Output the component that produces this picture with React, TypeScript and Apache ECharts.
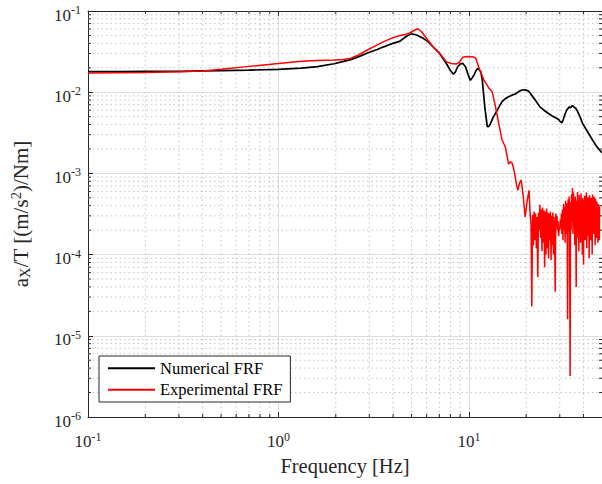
import React, { useEffect, useRef } from "react";
import * as echarts from "echarts";

const SERIF = "Liberation Serif, Times New Roman, serif";
const AXIS_COLOR = "#262626";

const X_MIN = 0.1;
const X_MAX = 50;
const Y_MIN = 1e-6;
const Y_MAX = 1e-1;

const seriesNames = ["Numerical FRF", "Experimental FRF"];
const seriesColors = ["#000000", "#ff0000"];

// [frequency Hz, |a_X/T|]
const numericalFRF: [number, number][] = [
  [0.1, 0.0179], [0.15, 0.0179], [0.2, 0.018], [0.3, 0.0181], [0.4, 0.0183], [0.5, 0.0184],
  [0.7, 0.0187], [1.0, 0.0191], [1.32, 0.0198], [1.6, 0.0207], [1.96, 0.0224], [2.2, 0.024],
  [2.4, 0.0252], [2.7, 0.028], [2.94, 0.0304], [3.3, 0.0335], [3.57, 0.0362], [4.0, 0.04],
  [4.35, 0.0425], [4.72, 0.0492], [5.0, 0.0525], [5.31, 0.0506], [5.75, 0.0461], [6.1, 0.042],
  [6.48, 0.0363], [7.02, 0.03], [7.6, 0.0227], [8.0, 0.0185], [8.29, 0.0166], [8.5, 0.0178],
  [8.73, 0.0206], [9.0, 0.0222], [9.27, 0.0227], [9.6, 0.0206], [9.9, 0.0165], [10.18, 0.014],
  [10.4, 0.015], [10.65, 0.0163], [10.9, 0.0185], [11.17, 0.0197], [11.55, 0.0179], [11.76, 0.0141],
  [12.12, 0.0066], [12.49, 0.00376], [12.75, 0.0038], [13.0, 0.00414], [13.4, 0.0049], [13.8, 0.0055],
  [14.4, 0.0066], [14.93, 0.00764], [15.5, 0.0083], [16.17, 0.0088], [16.8, 0.0092], [17.52, 0.0095],
  [18.2, 0.0101], [18.96, 0.01064], [19.7, 0.0107], [20.5, 0.0104], [21.36, 0.0092], [22.5, 0.0078],
  [23.6, 0.0066], [24.8, 0.006], [26.06, 0.0055], [27.4, 0.0051], [28.7, 0.0048], [29.6, 0.0046],
  [30.0, 0.0044], [30.8, 0.0042], [31.3, 0.0046], [31.8, 0.0052], [32.6, 0.006], [33.66, 0.0066],
  [34.2, 0.0064], [34.7, 0.0068], [35.12, 0.0068], [35.8, 0.0065], [36.5, 0.0063], [37.2, 0.0058],
  [38.05, 0.0052], [39.57, 0.0041], [42.0, 0.00326], [44.59, 0.00258], [46.5, 0.0022], [48.48, 0.00194],
  [50.0, 0.0018],
];

const experimentalFRF: [number, number][] = [
  [0.1, 0.0172], [0.2, 0.0175], [0.3, 0.0179], [0.4, 0.0183], [0.5, 0.0192], [0.7, 0.0208],
  [1.0, 0.0225], [1.32, 0.024], [1.6, 0.0245], [1.96, 0.0249], [2.2, 0.0253], [2.4, 0.0262],
  [2.65, 0.029], [2.93, 0.0331], [3.25, 0.0375], [3.57, 0.0419], [4.0, 0.047], [4.35, 0.05],
  [4.65, 0.0515], [4.91, 0.054], [5.21, 0.0583], [5.42, 0.0605], [5.64, 0.0556], [5.99, 0.0461],
  [6.48, 0.0363], [7.02, 0.0301], [7.6, 0.0238], [8.1, 0.0226], [8.56, 0.0222], [8.9, 0.0232],
  [9.27, 0.0269], [9.8, 0.0275], [10.44, 0.0274], [10.87, 0.0262], [11.31, 0.0197], [12.0, 0.0141],
  [12.74, 0.0112], [13.26, 0.0101], [13.8, 0.0066], [14.35, 0.0041], [14.93, 0.0026], [15.55, 0.0021],
  [15.9, 0.0016], [16.17, 0.0013], [16.5, 0.0014], [16.82, 0.00135], [17.1, 0.0012], [17.38, 0.001],
  [17.75, 0.00075], [18.07, 0.00062], [18.45, 0.00076], [18.83, 0.00083], [19.3, 0.00052], [19.74, 0.00029],
  [20.2, 0.00045], [20.7, 0.00062],
  [21.0, 3.0e-4], [21.2, 2.4e-4], [21.4, 2.3e-5], [21.6, 3.1e-4], [21.8, 1.3e-4], [22.0, 3.4e-4],
  [22.2, 1.5e-4], [22.4, 3.2e-4], [22.6, 1.2e-4], [22.8, 2.9e-4], [23.0, 5.3e-5], [23.2, 3.3e-4],
  [23.4, 2.0e-4], [23.6, 4.1e-4], [23.8, 1.6e-4], [24.0, 3.6e-4], [24.2, 1.1e-4], [24.4, 3.8e-4],
  [24.6, 1.4e-4], [24.8, 3.5e-4], [25.0, 7.0e-5], [25.2, 3.4e-4], [25.4, 1.0e-4], [25.6, 3.7e-4],
  [25.8, 1.2e-4], [26.0, 3.3e-4], [26.2, 9.0e-5], [26.4, 3.2e-4], [26.6, 1.5e-4], [26.8, 3.4e-4],
  [27.0, 8.5e-5], [27.2, 3.0e-4], [27.4, 1.3e-4], [27.6, 3.3e-4], [27.8, 1.0e-4], [28.0, 2.9e-4],
  [28.2, 1.6e-4], [28.4, 3.5e-5], [28.6, 3.2e-4], [28.8, 2.2e-4], [29.0, 3.0e-4], [29.2, 2.0e-4],
  [29.4, 2.6e-4], [29.6, 1.7e-4], [29.8, 2.2e-4], [30.0, 2.0e-4], [30.2, 2.7e-4], [30.4, 2.1e-4],
  [30.6, 3.2e-4], [30.8, 1.8e-4], [31.0, 3.6e-4], [31.2, 1.5e-4], [31.4, 4.2e-4], [31.6, 2.0e-4],
  [31.8, 3.9e-4], [32.0, 1.4e-4], [32.2, 4.6e-4], [32.4, 1.8e-4], [32.6, 4.3e-4], [32.8, 2.5e-4],
  [33.0, 1.6e-5], [33.2, 4.8e-4], [33.4, 1.9e-4], [33.6, 5.2e-4], [33.8, 2.2e-4], [34.0, 3.2e-6],
  [34.2, 4.4e-4], [34.4, 2.0e-4], [34.6, 5.5e-4], [34.8, 2.6e-4], [35.0, 6.6e-4], [35.2, 1.8e-4],
  [35.4, 5.8e-4], [35.6, 2.4e-4], [35.8, 4.9e-4], [36.0, 1.3e-4], [36.2, 5.2e-4], [36.4, 2.9e-4],
  [36.6, 4.0e-5], [36.8, 4.6e-4], [37.0, 1.6e-4], [37.2, 5.9e-4], [37.4, 2.3e-4], [37.6, 4.8e-4],
  [37.8, 1.1e-4], [38.0, 5.4e-4], [38.2, 2.7e-4], [38.4, 4.5e-4], [38.6, 1.4e-4], [38.8, 5.7e-4],
  [39.0, 3.0e-4], [39.2, 4.2e-4], [39.4, 1.0e-4], [39.6, 5.0e-4], [39.8, 2.4e-4], [40.0, 7.5e-5],
  [40.2, 4.7e-4], [40.4, 2.0e-4], [40.6, 5.3e-4], [40.8, 1.5e-4], [41.0, 4.4e-4], [41.2, 2.6e-4],
  [41.4, 5.8e-4], [41.6, 1.2e-4], [41.8, 4.1e-4], [42.0, 2.2e-4], [42.2, 5.1e-4], [42.4, 1.7e-4],
  [42.6, 4.6e-4], [42.8, 9.0e-5], [43.0, 5.4e-4], [43.2, 2.8e-4], [43.4, 4.3e-4], [43.6, 1.5e-4],
  [43.8, 5.0e-4], [44.0, 2.1e-4], [44.2, 4.7e-4], [44.4, 1.0e-4], [44.6, 5.5e-4], [44.8, 2.5e-4],
  [45.0, 4.0e-4], [45.2, 1.8e-4], [45.4, 5.2e-4], [45.6, 2.3e-4], [45.8, 4.4e-4], [46.0, 1.3e-4],
  [46.2, 4.9e-4], [46.4, 2.6e-4], [46.6, 3.8e-4], [46.8, 1.6e-4], [47.0, 4.5e-4], [47.2, 2.0e-4],
  [47.4, 3.6e-4], [47.6, 1.4e-4], [47.8, 4.2e-4], [48.0, 2.2e-4], [48.2, 3.4e-4], [48.4, 1.5e-4],
  [48.6, 3.9e-4],
];

const xMinorGrid = [0.2, 0.3, 0.4, 0.5, 0.6, 0.7, 0.8, 0.9, 2, 3, 4, 5, 6, 7, 8, 9, 20, 30, 40];
const yMinorGrid = [
  2e-6, 3e-6, 4e-6, 5e-6, 6e-6, 7e-6, 8e-6, 9e-6,
  2e-5, 3e-5, 4e-5, 5e-5, 6e-5, 7e-5, 8e-5, 9e-5,
  2e-4, 3e-4, 4e-4, 5e-4, 6e-4, 7e-4, 8e-4, 9e-4,
  2e-3, 3e-3, 4e-3, 5e-3, 6e-3, 7e-3, 8e-3, 9e-3,
  2e-2, 3e-2, 4e-2, 5e-2, 6e-2, 7e-2, 8e-2, 9e-2,
];

const powerLabel = (v: number) => {
  const e = Math.log10(v);
  const r = Math.round(e);
  if (Math.abs(e - r) > 1e-6) return "";
  return `{b|10}{s|${r}}`;
};

const labelRich = {
  b: { fontFamily: SERIF, fontSize: 17, color: AXIS_COLOR, padding: [8, 0, 0, 0] },
  s: { fontFamily: SERIF, fontSize: 12, color: AXIS_COLOR, padding: [0, 0, 2, 0] },
};

export default function App() {
  const ref = useRef<HTMLDivElement>(null);

  useEffect(() => {
    if (!ref.current) return;
    const chart = echarts.init(ref.current, null, { renderer: "svg" });

    const minorData = [
      ...xMinorGrid.map((v) => [v, Y_MIN, 0]),
      ...yMinorGrid.map((v) => [X_MIN, v, 1]),
    ];

    const option: any = {
      animation: false,
      backgroundColor: "#ffffff",
      textStyle: { fontFamily: SERIF },
      grid: { left: 83.7, top: 11, width: 520.9, height: 406, containLabel: false },
      legend: {
        data: seriesNames,
        orient: "vertical",
        left: 99,
        top: 356,
        icon: "rect",
        itemWidth: 47,
        itemHeight: 2,
        itemGap: 4.6,
        padding: [3.7, 8, 3.7, 9],
        backgroundColor: "#ffffff",
        borderColor: AXIS_COLOR,
        borderWidth: 1,
        borderRadius: 0,
        textStyle: { fontFamily: SERIF, fontSize: 16.5, lineHeight: 17, color: "#000" },
      },
      xAxis: [
        {
          type: "log",
          logBase: 10,
          min: X_MIN,
          max: X_MAX,
          name: "Frequency [Hz]",
          nameLocation: "middle",
          nameGap: 38,
          nameTextStyle: { fontFamily: SERIF, fontSize: 20.5, color: AXIS_COLOR },
          axisLine: { show: true, onZero: false, lineStyle: { color: AXIS_COLOR, width: 1 } },
          axisTick: { show: true, inside: true, length: 5, lineStyle: { color: AXIS_COLOR } },
          axisLabel: { formatter: powerLabel, rich: labelRich, fontFamily: SERIF, fontSize: 17, margin: 8, showMaxLabel: false },
          splitLine: { show: true, lineStyle: { color: "#dcdcdc", width: 1 } },
        },
        {
          type: "log",
          logBase: 10,
          min: X_MIN,
          max: X_MAX,
          position: "top",
          axisLine: { show: true, onZero: false, lineStyle: { color: AXIS_COLOR, width: 1 } },
          axisTick: { show: true, inside: true, length: 5, lineStyle: { color: AXIS_COLOR } },
          axisLabel: { show: false },
          splitLine: { show: false },
        },
      ],
      yAxis: [
        {
          type: "log",
          logBase: 10,
          min: Y_MIN,
          max: Y_MAX,
          name: "{n|a}{sub|X}{n|/T [(m/s}{sup|2}{n|)/Nm]}",
          nameLocation: "middle",
          nameRotate: 90,
          nameGap: 55,
          nameTextStyle: {
            fontFamily: SERIF,
            fontSize: 21,
            rich: {
              n: { fontFamily: SERIF, fontSize: 21, color: AXIS_COLOR },
              sub: { fontFamily: SERIF, fontSize: 14.5, color: AXIS_COLOR, padding: [8, 0, 0, 0] },
              sup: { fontFamily: SERIF, fontSize: 14.5, color: AXIS_COLOR, padding: [0, 0, 10, 0] },
            },
          },
          axisLine: { show: true, onZero: false, lineStyle: { color: AXIS_COLOR, width: 1 } },
          axisTick: { show: true, inside: true, length: 5, lineStyle: { color: AXIS_COLOR } },
          axisLabel: { formatter: powerLabel, rich: labelRich, fontFamily: SERIF, fontSize: 17, margin: 7 },
          splitLine: { show: true, lineStyle: { color: "#dcdcdc", width: 1 } },
        },
      ],
      series: [
        {
          type: "custom",
          silent: true,
          z: 1,
          clip: false,
          encode: { x: 0, y: 1 },
          data: minorData,
          renderItem: (params: any, api: any) => {
            const kind = api.value(2);
            const dotted = { stroke: "#c4c4c4", lineWidth: 1, lineDash: [1.5, 3] };
            const tick = { stroke: AXIS_COLOR, lineWidth: 1 };
            if (kind === 0) {
              const x = api.value(0);
              const p0 = api.coord([x, Y_MIN]);
              const p1 = api.coord([x, Y_MAX]);
              return {
                type: "group",
                children: [
                  { type: "line", shape: { x1: p0[0], y1: p0[1], x2: p1[0], y2: p1[1] }, style: dotted },
                  { type: "line", shape: { x1: p0[0], y1: p0[1], x2: p0[0], y2: p0[1] - 3 }, style: tick },
                  { type: "line", shape: { x1: p1[0], y1: p1[1], x2: p1[0], y2: p1[1] + 3 }, style: tick },
                ],
              };
            }
            const y = api.value(1);
            const q0 = api.coord([X_MIN, y]);
            const q1 = api.coord([X_MAX, y]);
            return {
              type: "group",
              children: [
                { type: "line", shape: { x1: q0[0], y1: q0[1], x2: q1[0], y2: q1[1] }, style: dotted },
                { type: "line", shape: { x1: q0[0], y1: q0[1], x2: q0[0] + 3, y2: q0[1] }, style: tick },
                { type: "line", shape: { x1: q1[0], y1: q1[1], x2: q1[0] - 3, y2: q1[1] }, style: tick },
              ],
            };
          },
        },
        {
          type: "line",
          name: seriesNames[0],
          data: numericalFRF,
          showSymbol: false,
          symbol: "none",
          z: 3,
          lineStyle: { color: seriesColors[0], width: 1.7 },
          itemStyle: { color: seriesColors[0] },
        },
        {
          type: "line",
          name: seriesNames[1],
          data: experimentalFRF,
          showSymbol: false,
          symbol: "none",
          z: 4,
          lineStyle: { color: seriesColors[1], width: 1.5 },
          itemStyle: { color: seriesColors[1] },
        },
      ],
    };

    chart.setOption(option);
    return () => chart.dispose();
  }, []);

  return (
    <div
      ref={ref}
      style={{ position: "absolute", left: 0, top: 0, width: 602, height: 484, background: "#fff" }}
    />
  );
}
